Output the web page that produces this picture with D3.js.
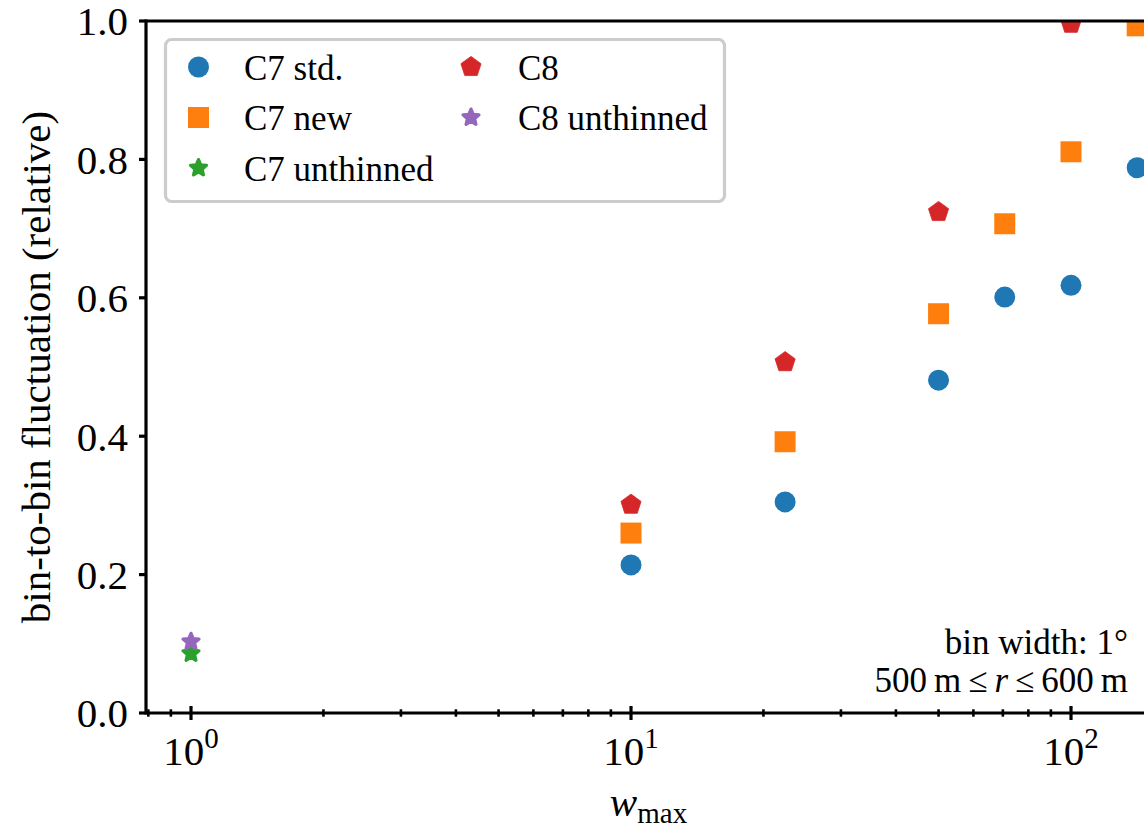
<!DOCTYPE html>
<html>
<head>
<meta charset="utf-8">
<script src="https://cdn.jsdelivr.net/npm/d3@7"></script>
<style>
  html, body { margin: 0; padding: 0; background: #fff; }
</style>
</head>
<body>
<svg id="chart" width="1144" height="829"></svg>
<script>
// maximum weight values on the x axis
const wValues = [1, 10, 22.4, 50, 70.7, 100, 141.4];

// relative bin-to-bin fluctuation for each configuration
const c7StdW = [10, 22.4, 50, 70.7, 100, 141.4];
const c7StdV = [0.214, 0.305, 0.481, 0.601, 0.618, 0.788];

const c7NewW = [10, 22.4, 50, 70.7, 100, 141.4];
const c7NewV = [0.260, 0.392, 0.577, 0.707, 0.811, 0.993];

const c7UnthW = [1];
const c7UnthV = [0.086];

const c8W = [10, 22.4, 50, 100];
const c8V = [0.301, 0.507, 0.724, 0.996];

const c8UnthW = [1];
const c8UnthV = [0.103];

const seriesNames = ["C7 std.", "C7 new", "C7 unthinned", "C8", "C8 unthinned"];
const seriesColors = ["#1f77b4", "#ff7f0e", "#2ca02c", "#d62728", "#9467bd"];
const seriesShapes = ["circle", "square", "star", "pentagon", "star"];

const yTickValues = [0, 0.2, 0.4, 0.6, 0.8, 1.0];
const xMajorTicks = [1, 10, 100];

const series = [
  { name: seriesNames[0], w: c7StdW, v: c7StdV },
  { name: seriesNames[1], w: c7NewW, v: c7NewV },
  { name: seriesNames[2], w: c7UnthW, v: c7UnthV },
  { name: seriesNames[3], w: c8W, v: c8V },
  { name: seriesNames[4], w: c8UnthW, v: c8UnthV }
].map((s, i) => ({ ...s, color: seriesColors[i], shape: seriesShapes[i] }));

const FONT = "'Liberation Serif', Tinos, 'Times New Roman', Times, 'DejaVu Serif', serif";

const svg = d3.select("#chart").attr("font-family", FONT);
const W = 1144, H = 829;
const plotLeft = 146, plotRight = 1151, plotTop = 21, plotBottom = 713;

const x = d3.scaleLog()
  .domain([Math.pow(10, -0.10227), Math.pow(10, 2.1818)])
  .range([plotLeft, plotRight]);
const y = d3.scaleLinear().domain([0, 1]).range([plotBottom, plotTop]);

svg.append("rect").attr("width", W).attr("height", H).attr("fill", "#fff");

// regular polygon / star marker generators
function polygonType(n, innerRatio) {
  return {
    draw(ctx, size) {
      const r = Math.sqrt(size);
      const pts = innerRatio ? n * 2 : n;
      for (let k = 0; k < pts; k++) {
        const rr = innerRatio && (k % 2 === 1) ? r * innerRatio : r;
        const a = -Math.PI / 2 + k * 2 * Math.PI / pts;
        const px = rr * Math.cos(a), py = rr * Math.sin(a);
        if (k === 0) ctx.moveTo(px, py); else ctx.lineTo(px, py);
      }
      ctx.closePath();
    }
  };
}
const squareType = {
  draw(ctx, size) {
    const h = Math.sqrt(size);
    ctx.rect(-h, -h, 2 * h, 2 * h);
  }
};
const circleType = {
  draw(ctx, size) {
    const r = Math.sqrt(size);
    ctx.moveTo(r, 0);
    ctx.arc(0, 0, r, 0, 2 * Math.PI);
  }
};
// size argument below is radius squared (half-side squared for squares)
const shapeDefs = {
  circle: { type: circleType, r: 10.5, sw: 0 },
  square: { type: squareType, r: 10.5, sw: 0 },
  pentagon: { type: polygonType(5), r: 10.6, sw: 0.8 },
  star: { type: polygonType(5, 0.45), r: 8.4, sw: 3.2 }
};
function markerPath(shape) {
  const d = shapeDefs[shape];
  return d3.symbol().type(d.type).size(d.r * d.r)();
}

// clip region for the axes area
svg.append("clipPath").attr("id", "plotClip")
  .append("rect")
  .attr("x", plotLeft).attr("y", plotTop)
  .attr("width", plotRight - plotLeft).attr("height", plotBottom - plotTop);

const marks = svg.append("g").attr("clip-path", "url(#plotClip)");
series.forEach(s => {
  const def = shapeDefs[s.shape];
  marks.append("g").selectAll("path")
    .data(s.w.map((w, i) => [w, s.v[i]]))
    .join("path")
    .attr("d", markerPath(s.shape))
    .attr("transform", d => `translate(${x(d[0])},${y(d[1])})`)
    .attr("fill", s.color)
    .attr("stroke", def.sw ? s.color : "none")
    .attr("stroke-width", def.sw)
    .attr("stroke-linejoin", "round");
});

// spines
const spines = svg.append("g").attr("stroke", "#000").attr("stroke-width", 3.2).attr("fill", "none");
spines.append("line").attr("x1", plotLeft).attr("x2", plotRight + 10)
  .attr("y1", plotTop).attr("y2", plotTop);
spines.append("line").attr("x1", plotLeft).attr("x2", plotRight + 10)
  .attr("y1", plotBottom).attr("y2", plotBottom);
spines.append("line").attr("x1", plotLeft).attr("x2", plotLeft)
  .attr("y1", plotTop - 1.6).attr("y2", plotBottom + 1.6);

// y axis ticks and labels
const yAxis = svg.append("g");
yAxis.selectAll("line").data(yTickValues).join("line")
  .attr("x1", plotLeft - 7).attr("x2", plotLeft)
  .attr("y1", d => y(d)).attr("y2", d => y(d))
  .attr("stroke", "#000").attr("stroke-width", 3.2);
yAxis.selectAll("text").data(yTickValues).join("text")
  .attr("x", plotLeft - 18).attr("y", d => y(d)).attr("dy", "0.35em")
  .attr("text-anchor", "end").attr("font-size", 41)
  .text(d => d3.format(".1f")(d));

// x axis: major and minor ticks crossing the axis line
const xMinor = x.ticks().filter(t => !xMajorTicks.includes(t));
const xAxis = svg.append("g");
xAxis.selectAll("line.minor").data(xMinor).join("line").attr("class", "minor")
  .attr("x1", d => x(d)).attr("x2", d => x(d))
  .attr("y1", plotBottom - 3.7).attr("y2", plotBottom + 3.7)
  .attr("stroke", "#000").attr("stroke-width", 2.6);
xAxis.selectAll("line.major").data(xMajorTicks).join("line").attr("class", "major")
  .attr("x1", d => x(d)).attr("x2", d => x(d))
  .attr("y1", plotBottom - 7).attr("y2", plotBottom + 7)
  .attr("stroke", "#000").attr("stroke-width", 3.2);
const xLabels = xAxis.selectAll("text").data(xMajorTicks).join("text")
  .attr("x", d => x(d)).attr("y", 765)
  .attr("text-anchor", "middle").attr("font-size", 41);
xLabels.append("tspan").text("10");
xLabels.append("tspan").attr("font-size", 29).attr("dy", -17)
  .text(d => String(Math.round(Math.log10(d))));

// axis titles
const xTitle = svg.append("text")
  .attr("x", (plotLeft + plotRight) / 2).attr("y", 816)
  .attr("text-anchor", "middle").attr("font-size", 41);
xTitle.append("tspan").attr("font-style", "italic").text("w");
xTitle.append("tspan").attr("font-size", 29).attr("dy", 7).text("max");

svg.append("text")
  .attr("transform", `translate(50,${(plotTop + plotBottom) / 2}) rotate(-90)`)
  .attr("text-anchor", "middle").attr("font-size", 41)
  .text("bin-to-bin fluctuation (relative)");

// legend
const legend = svg.append("g");
legend.append("rect")
  .attr("x", 165.5).attr("y", 39.5).attr("width", 559).attr("height", 162)
  .attr("rx", 6).attr("fill", "#fff").attr("fill-opacity", 0.8)
  .attr("stroke", "#cccccc").attr("stroke-width", 3.2);
const legendCols = [[0, 1, 2], [3, 4]];
const colMarkerX = [198.5, 471];
const colTextX = [244, 518];
const rowY = [67, 117.5, 168];
legendCols.forEach((col, ci) => {
  col.forEach((si, ri) => {
    const s = series[si];
    const def = shapeDefs[s.shape];
    legend.append("path")
      .attr("d", markerPath(s.shape))
      .attr("transform", `translate(${colMarkerX[ci]},${rowY[ri]})`)
      .attr("fill", s.color)
      .attr("stroke", def.sw ? s.color : "none")
      .attr("stroke-width", def.sw)
      .attr("stroke-linejoin", "round");
    legend.append("text")
      .attr("x", colTextX[ci]).attr("y", rowY[ri] + 12.5)
      .attr("font-size", 35)
      .text(s.name);
  });
});

// annotation
const note = svg.append("g").attr("font-size", 35).attr("text-anchor", "end");
note.append("text").attr("x", 1128).attr("y", 654).text("bin width: 1°");
const note2 = note.append("text").attr("x", 1128).attr("y", 692);
note2.append("tspan").text("500\u2009m\u2009\u2264\u2009");
note2.append("tspan").attr("font-style", "italic").text("r");
note2.append("tspan").text("\u2009\u2264\u2009600\u2009m");
</script>
</body>
</html>
